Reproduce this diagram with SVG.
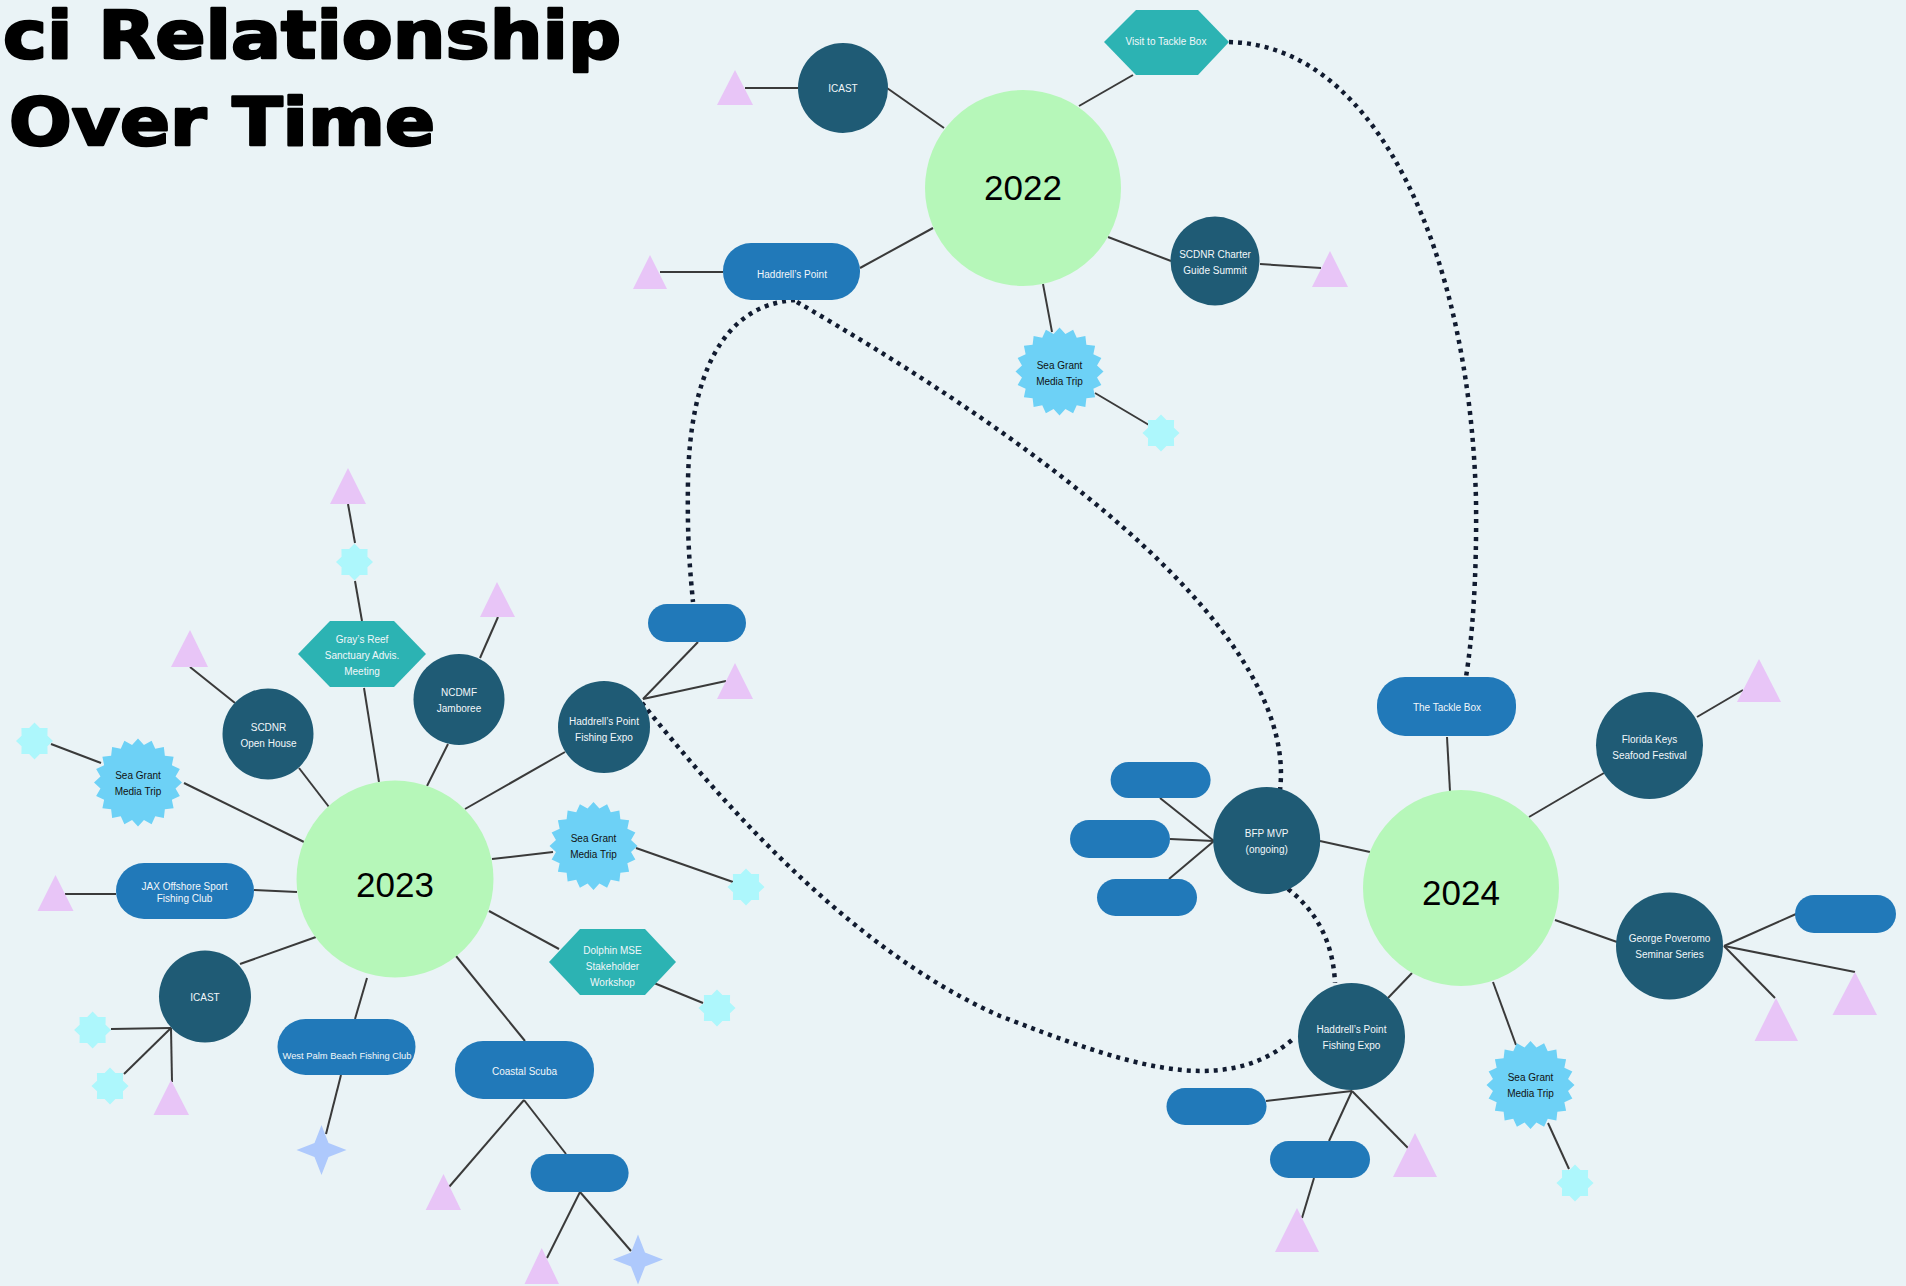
<svg xmlns="http://www.w3.org/2000/svg" xmlns:xlink="http://www.w3.org/1999/xlink" width="1906" height="1286" viewBox="0 0 1906 1286">
<style>
.yr{fill:#B6F7B9}
.dk{fill:#1F5B75}
.pill{fill:#2179B9}
.hex{fill:#2CB3B3}
.burst{fill:#6DD1F6}
.s8{fill:#ADF7FC}
.tri{fill:#E8C5F7}
.s4{fill:#AEC9FC}
.ln{stroke:#3A3A3A;stroke-width:2;fill:none}
.dot{stroke:#111B30;stroke-width:4.5;stroke-dasharray:4 5;fill:none}
.t{font-family:"Liberation Sans",Arial,sans-serif;font-size:10px;fill:#F2F7FA;text-anchor:middle}
.tk{font-family:"Liberation Sans",Arial,sans-serif;font-size:10px;fill:#111;text-anchor:middle}
.year{font-family:"Liberation Sans",Arial,sans-serif;font-size:35px;fill:#000;text-anchor:middle}
.title{font-family:"DejaVu Sans",sans-serif;font-weight:bold;font-size:66px;fill:#000;stroke:#000;stroke-width:2.5;stroke-linejoin:round}
</style>
<defs>
<polygon id="burst" points="0,-44 5.94,-37.53 13.6,-41.85 17.25,-33.86 25.86,-35.6 26.87,-26.87 35.6,-25.86 33.86,-17.25 41.85,-13.6 37.53,-5.94 44,0 37.53,5.94 41.85,13.6 33.86,17.25 35.6,25.86 26.87,26.87 25.86,35.6 17.25,33.86 13.6,41.85 5.94,37.53 0,44 -5.94,37.53 -13.6,41.85 -17.25,33.86 -25.86,35.6 -26.87,26.87 -35.6,25.86 -33.86,17.25 -41.85,13.6 -37.53,5.94 -44,0 -37.53,-5.94 -41.85,-13.6 -33.86,-17.25 -35.6,-25.86 -26.87,-26.87 -25.86,-35.6 -17.25,-33.86 -13.6,-41.85 -5.94,-37.53"/>
<polygon id="s8" points="0,-18.5 5.36,-12.93 13.08,-13.08 12.93,-5.36 18.5,0 12.93,5.36 13.08,13.08 5.36,12.93 0,18.5 -5.36,12.93 -13.08,13.08 -12.93,5.36 -18.5,0 -12.93,-5.36 -13.08,-13.08 -5.36,-12.93"/>
<polygon id="s4" points="0,-25 7,-7 25,0 7,7 0,25 -7,7 -25,0 -7,-7"/>
</defs>
<rect width="1906" height="1286" fill="#EAF3F6"/>
<g id="title">
<text class="title" x="3" y="58" textLength="618" lengthAdjust="spacingAndGlyphs">ci Relationship</text>
<text class="title" x="9" y="145" textLength="426" lengthAdjust="spacingAndGlyphs">Over Time</text>
</g>
<g id="connectors">
<line class="ln" x1="745" y1="88" x2="798" y2="88"/>
<line class="ln" x1="887" y1="88" x2="944" y2="128"/>
<line class="ln" x1="1079" y1="106" x2="1133" y2="75"/>
<line class="ln" x1="660" y1="272" x2="723" y2="272"/>
<line class="ln" x1="860" y1="268" x2="933" y2="228"/>
<line class="ln" x1="1108" y1="237" x2="1171" y2="261"/>
<line class="ln" x1="1260" y1="264" x2="1321" y2="268"/>
<line class="ln" x1="1043" y1="284" x2="1052" y2="332"/>
<line class="ln" x1="1095" y1="393" x2="1149" y2="425"/>
<line class="ln" x1="362" y1="621" x2="355" y2="581"/>
<line class="ln" x1="355" y1="543" x2="348" y2="504"/>
<line class="ln" x1="364" y1="688" x2="379" y2="782"/>
<line class="ln" x1="190" y1="667" x2="235" y2="703"/>
<line class="ln" x1="299" y1="768" x2="329" y2="807"/>
<line class="ln" x1="498" y1="617" x2="480" y2="658"/>
<line class="ln" x1="448" y1="744" x2="427" y2="786"/>
<line class="ln" x1="565" y1="752" x2="465" y2="809"/>
<line class="ln" x1="698" y1="642" x2="643" y2="699"/>
<line class="ln" x1="643" y1="699" x2="726" y2="681"/>
<line class="ln" x1="51" y1="744" x2="101" y2="763"/>
<line class="ln" x1="184" y1="783" x2="304" y2="842"/>
<line class="ln" x1="492" y1="859" x2="553" y2="852"/>
<line class="ln" x1="636" y1="848" x2="733" y2="882"/>
<line class="ln" x1="489" y1="911" x2="559" y2="949"/>
<line class="ln" x1="654" y1="983" x2="703" y2="1003"/>
<line class="ln" x1="65" y1="894" x2="116" y2="894"/>
<line class="ln" x1="254" y1="890" x2="297" y2="892"/>
<line class="ln" x1="240" y1="964" x2="316" y2="937"/>
<line class="ln" x1="171" y1="1028" x2="111" y2="1029"/>
<line class="ln" x1="171" y1="1028" x2="124" y2="1074"/>
<line class="ln" x1="171" y1="1028" x2="172" y2="1082"/>
<line class="ln" x1="367" y1="978" x2="355" y2="1019"/>
<line class="ln" x1="341" y1="1075" x2="326" y2="1134"/>
<line class="ln" x1="456" y1="956" x2="525" y2="1041"/>
<line class="ln" x1="524" y1="1100" x2="449" y2="1187"/>
<line class="ln" x1="524" y1="1100" x2="566" y2="1154"/>
<line class="ln" x1="580" y1="1192" x2="547" y2="1258"/>
<line class="ln" x1="580" y1="1192" x2="631" y2="1251"/>
<line class="ln" x1="1447" y1="737" x2="1450" y2="791"/>
<line class="ln" x1="1743" y1="690" x2="1697" y2="717"/>
<line class="ln" x1="1529" y1="817" x2="1604" y2="773"/>
<line class="ln" x1="1320" y1="841" x2="1370" y2="852"/>
<line class="ln" x1="1214" y1="841" x2="1160" y2="798"/>
<line class="ln" x1="1214" y1="841" x2="1170" y2="839"/>
<line class="ln" x1="1214" y1="841" x2="1169" y2="879"/>
<line class="ln" x1="1388" y1="998" x2="1412" y2="973"/>
<line class="ln" x1="1352" y1="1091" x2="1266" y2="1101"/>
<line class="ln" x1="1352" y1="1091" x2="1329" y2="1141"/>
<line class="ln" x1="1352" y1="1091" x2="1408" y2="1148"/>
<line class="ln" x1="1314" y1="1178" x2="1302" y2="1218"/>
<line class="ln" x1="1493" y1="982" x2="1516" y2="1045"/>
<line class="ln" x1="1548" y1="1123" x2="1569" y2="1169"/>
<line class="ln" x1="1555" y1="920" x2="1617" y2="942"/>
<line class="ln" x1="1724" y1="946" x2="1796" y2="914"/>
<line class="ln" x1="1724" y1="946" x2="1775" y2="998"/>
<line class="ln" x1="1724" y1="946" x2="1855" y2="972"/>
<path class="dot" d="M1229,42 C1380,45 1470,260 1476,500 C1477,580 1472,640 1466,677"/>
<path class="dot" d="M795,300 C720,305 690,380 688,480 C687,540 690,570 693,602"/>
<path class="dot" d="M797,302 C1000,420 1300,620 1280,790"/>
<path class="dot" d="M1288,889 C1315,910 1333,940 1335,983"/>
<path class="dot" d="M642,703 C720,800 850,950 1000,1016 C1120,1062 1220,1100 1292,1040"/>
</g>
<g id="y2022"><circle class="yr" cx="1023" cy="188" r="98"/><text class="year" x="1023" y="200">2022</text></g>
<g id="icast22"><circle class="dk" cx="843" cy="88" r="45"/><text class="t" x="843" y="91.5">ICAST</text></g>
<g id="tri22a"><polygon class="tri" points="735,70 717,105 753,105"/></g>
<g id="visit"><polygon class="hex" points="1104,42 1136,10 1198,10 1229,42 1198,75 1136,75"/><text class="t" x="1166" y="44.5">Visit to Tackle Box</text></g>
<g id="hadd22"><rect class="pill" x="723" y="243" width="137" height="57" rx="28"/><text class="t" x="792" y="277.5">Haddrell’s Point</text></g>
<g id="tri22b"><polygon class="tri" points="650,255 633,289 667,289"/></g>
<g id="scdnr22"><circle class="dk" cx="1215" cy="261" r="44.5"/><text class="t" x="1215" y="257.5">SCDNR Charter</text><text class="t" x="1215" y="273.5">Guide Summit</text></g>
<g id="tri22c"><polygon class="tri" points="1330,251 1312,287 1348,287"/></g>
<g id="sg22"><use xlink:href="#burst" href="#burst" class="burst" x="1059.5" y="371.5"/><text class="tk" x="1059.5" y="368.5">Sea Grant</text><text class="tk" x="1059.5" y="384.5">Media Trip</text></g>
<g id="star22"><use xlink:href="#s8" href="#s8" class="s8" x="1161" y="433"/></g>
<g id="y2023"><circle class="yr" cx="395" cy="879" r="98.5"/><text class="year" x="395" y="897">2023</text></g>
<g id="gray"><polygon class="hex" points="298,654 330,621 394,621 426,654 394,687 330,687"/><text class="t" x="362" y="642.5">Gray’s Reef</text><text class="t" x="362" y="658.5">Sanctuary Advis.</text><text class="t" x="362" y="674.5">Meeting</text></g>
<g id="star23a"><use xlink:href="#s8" href="#s8" class="s8" x="354.5" y="562"/></g>
<g id="tri23a"><polygon class="tri" points="348,468 330,504 366,504"/></g>
<g id="scdnr23"><circle class="dk" cx="268" cy="734" r="45.5"/><text class="t" x="268.5" y="731">SCDNR</text><text class="t" x="268.5" y="747">Open House</text></g>
<g id="tri23b"><polygon class="tri" points="190,630 171,667 208,667"/></g>
<g id="ncdmf"><circle class="dk" cx="459" cy="699.5" r="45.5"/><text class="t" x="459" y="696">NCDMF</text><text class="t" x="459" y="712">Jamboree</text></g>
<g id="tri23c"><polygon class="tri" points="497,582 480,617 515,617"/></g>
<g id="hadd23"><circle class="dk" cx="604" cy="727" r="46"/><text class="t" x="604" y="725">Haddrell’s Point</text><text class="t" x="604" y="741">Fishing Expo</text></g>
<g id="pill23a"><rect class="pill" x="648" y="604" width="98" height="38" rx="19"/></g>
<g id="tri23d"><polygon class="tri" points="735,663 717,699 753,699"/></g>
<g id="sg23a"><use xlink:href="#burst" href="#burst" class="burst" x="138" y="782.5"/><text class="tk" x="138" y="779">Sea Grant</text><text class="tk" x="138" y="795">Media Trip</text></g>
<g id="star23b"><use xlink:href="#s8" href="#s8" class="s8" x="34.5" y="741"/></g>
<g id="sg23b"><use xlink:href="#burst" href="#burst" class="burst" x="593.5" y="846"/><text class="tk" x="593.5" y="842">Sea Grant</text><text class="tk" x="593.5" y="858">Media Trip</text></g>
<g id="star23c"><use xlink:href="#s8" href="#s8" class="s8" x="746" y="887"/></g>
<g id="dolphin"><polygon class="hex" points="549,962 580,929 645,929 676,962 645,995 580,995"/><text class="t" x="612.5" y="953.5">Dolphin MSE</text><text class="t" x="612.5" y="969.5">Stakeholder</text><text class="t" x="612.5" y="985.5">Workshop</text></g>
<g id="star23d"><use xlink:href="#s8" href="#s8" class="s8" x="717" y="1008"/></g>
<g id="jax"><rect class="pill" x="116" y="863" width="138" height="56" rx="28"/><text class="t" x="184.5" y="889.5">JAX Offshore Sport</text><text class="t" x="184.5" y="902">Fishing Club</text></g>
<g id="tri23e"><polygon class="tri" points="55.5,875 37.5,911 73.5,911"/></g>
<g id="icast23"><circle class="dk" cx="205" cy="996.5" r="46"/><text class="t" x="205" y="1001">ICAST</text></g>
<g id="star23e"><use xlink:href="#s8" href="#s8" class="s8" x="92.6" y="1030"/></g>
<g id="star23f"><use xlink:href="#s8" href="#s8" class="s8" x="110" y="1086"/></g>
<g id="tri23f"><polygon class="tri" points="171,1080 153.5,1115 189,1115"/></g>
<g id="wpb"><rect class="pill" x="277.5" y="1019" width="138" height="56" rx="28"/><text class="t" x="347" y="1058.5" style="font-size:9.4px">West Palm Beach Fishing Club</text></g>
<g id="star4a"><use xlink:href="#s4" href="#s4" class="s4" x="321.5" y="1150"/></g>
<g id="coastal"><rect class="pill" x="455" y="1041" width="139" height="58" rx="28"/><text class="t" x="524.5" y="1074.5">Coastal Scuba</text></g>
<g id="tri23g"><polygon class="tri" points="443.5,1174 425.7,1210 461,1210"/></g>
<g id="pill23b"><rect class="pill" x="530.6" y="1154" width="98" height="38" rx="19"/></g>
<g id="tri23h"><polygon class="tri" points="541.7,1248 524.5,1284 559,1284"/></g>
<g id="star4b"><use xlink:href="#s4" href="#s4" class="s4" x="638" y="1259.5"/></g>
<g id="y2024"><circle class="yr" cx="1461" cy="888" r="98"/><text class="year" x="1461" y="905">2024</text></g>
<g id="tackle"><rect class="pill" x="1377" y="677" width="139" height="59" rx="28"/><text class="t" x="1447" y="710.5">The Tackle Box</text></g>
<g id="florida"><circle class="dk" cx="1649.5" cy="745.5" r="53.5"/><text class="t" x="1649.5" y="742.5">Florida Keys</text><text class="t" x="1649.5" y="758.5">Seafood Festival</text></g>
<g id="tri24a"><polygon class="tri" points="1759,659 1737,702 1781,702"/></g>
<g id="bfp"><circle class="dk" cx="1266.7" cy="840.5" r="53.5"/><text class="t" x="1266.7" y="837">BFP MVP</text><text class="t" x="1266.7" y="853">(ongoing)</text></g>
<g id="pill24a"><rect class="pill" x="1110.6" y="762" width="100" height="36" rx="18"/></g>
<g id="pill24b"><rect class="pill" x="1070" y="820" width="100" height="38" rx="19"/></g>
<g id="pill24c"><rect class="pill" x="1097" y="879" width="100" height="37" rx="18.5"/></g>
<g id="hadd24"><circle class="dk" cx="1351.5" cy="1036.5" r="53.5"/><text class="t" x="1351.5" y="1033">Haddrell’s Point</text><text class="t" x="1351.5" y="1049">Fishing Expo</text></g>
<g id="pill24d"><rect class="pill" x="1166.5" y="1088" width="100" height="37" rx="18.5"/></g>
<g id="pill24e"><rect class="pill" x="1270" y="1141" width="100" height="37" rx="18.5"/></g>
<g id="tri24b"><polygon class="tri" points="1415,1133 1393,1177 1437,1177"/></g>
<g id="tri24c"><polygon class="tri" points="1297,1208 1275,1252 1319,1252"/></g>
<g id="sg24"><use xlink:href="#burst" href="#burst" class="burst" x="1530.5" y="1085"/><text class="tk" x="1530.5" y="1081">Sea Grant</text><text class="tk" x="1530.5" y="1097">Media Trip</text></g>
<g id="star24"><use xlink:href="#s8" href="#s8" class="s8" x="1575" y="1183"/></g>
<g id="george"><circle class="dk" cx="1669.5" cy="946" r="53.5"/><text class="t" x="1669.5" y="942">George Poveromo</text><text class="t" x="1669.5" y="958">Seminar Series</text></g>
<g id="pill24f"><rect class="pill" x="1795" y="895" width="101" height="38" rx="19"/></g>
<g id="tri24d"><polygon class="tri" points="1776,998 1754.6,1041 1798,1041"/></g>
<g id="tri24e"><polygon class="tri" points="1855,972 1832.5,1015 1877,1015"/></g>
</svg>
